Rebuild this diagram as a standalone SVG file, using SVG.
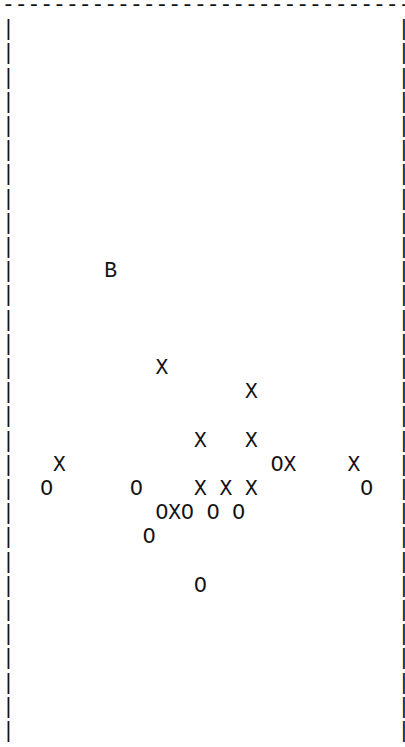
<svg xmlns="http://www.w3.org/2000/svg" width="405" height="747" viewBox="0 0 405 747">
<style>
text{font-family:"Liberation Mono","Courier New",monospace;font-size:21.33px;fill:#111;white-space:pre}
</style>
<rect width="405" height="747" fill="#fff"/>
<g id="frame" opacity="0.99">
<text id="top" x="1.9" y="11">--------------------------------</text>
<text id="left-bar" x="1.9"><tspan x="1.9" y="35.2">|</tspan><tspan x="1.9" y="59.4">|</tspan><tspan x="1.9" y="83.6">|</tspan><tspan x="1.9" y="107.8">|</tspan><tspan x="1.9" y="132">|</tspan><tspan x="1.9" y="156.2">|</tspan><tspan x="1.9" y="180.4">|</tspan><tspan x="1.9" y="204.6">|</tspan><tspan x="1.9" y="228.8">|</tspan><tspan x="1.9" y="253">|</tspan><tspan x="1.9" y="277.2">|</tspan><tspan x="1.9" y="301.4">|</tspan><tspan x="1.9" y="325.6">|</tspan><tspan x="1.9" y="349.8">|</tspan><tspan x="1.9" y="374">|</tspan><tspan x="1.9" y="398.2">|</tspan><tspan x="1.9" y="422.4">|</tspan><tspan x="1.9" y="446.6">|</tspan><tspan x="1.9" y="470.8">|</tspan><tspan x="1.9" y="495">|</tspan><tspan x="1.9" y="519.2">|</tspan><tspan x="1.9" y="543.4">|</tspan><tspan x="1.9" y="567.6">|</tspan><tspan x="1.9" y="591.8">|</tspan><tspan x="1.9" y="616">|</tspan><tspan x="1.9" y="640.2">|</tspan><tspan x="1.9" y="664.4">|</tspan><tspan x="1.9" y="688.6">|</tspan><tspan x="1.9" y="712.8">|</tspan><tspan x="1.9" y="737">|</tspan></text>
<text id="right-bar" x="397.6"><tspan x="397.6" y="35.2">|</tspan><tspan x="397.6" y="59.4">|</tspan><tspan x="397.6" y="83.6">|</tspan><tspan x="397.6" y="107.8">|</tspan><tspan x="397.6" y="132">|</tspan><tspan x="397.6" y="156.2">|</tspan><tspan x="397.6" y="180.4">|</tspan><tspan x="397.6" y="204.6">|</tspan><tspan x="397.6" y="228.8">|</tspan><tspan x="397.6" y="253">|</tspan><tspan x="397.6" y="277.2">|</tspan><tspan x="397.6" y="301.4">|</tspan><tspan x="397.6" y="325.6">|</tspan><tspan x="397.6" y="349.8">|</tspan><tspan x="397.6" y="374">|</tspan><tspan x="397.6" y="398.2">|</tspan><tspan x="397.6" y="422.4">|</tspan><tspan x="397.6" y="446.6">|</tspan><tspan x="397.6" y="470.8">|</tspan><tspan x="397.6" y="495">|</tspan><tspan x="397.6" y="519.2">|</tspan><tspan x="397.6" y="543.4">|</tspan><tspan x="397.6" y="567.6">|</tspan><tspan x="397.6" y="591.8">|</tspan><tspan x="397.6" y="616">|</tspan><tspan x="397.6" y="640.2">|</tspan><tspan x="397.6" y="664.4">|</tspan><tspan x="397.6" y="688.6">|</tspan><tspan x="397.6" y="712.8">|</tspan><tspan x="397.6" y="737">|</tspan></text>
</g>
<g id="pieces" opacity="0.99">
<text id="r11" x="104.3" y="277.2">B</text>
<text id="r15" x="155.5" y="374">X</text>
<text id="r16" x="245.1" y="398.2">X</text>
<text id="r18a" x="193.9" y="446.6">X</text>
<text id="r18b" x="245.1" y="446.6">X</text>
<text id="r19a" x="53.1" y="470.8">X</text>
<text id="r19b" x="270.7" y="470.8">OX</text>
<text id="r19c" x="347.5" y="470.8">X</text>
<text id="r20a" x="40.3" y="495">O</text>
<text id="r20b" x="129.9" y="495">O</text>
<text id="r20c" x="193.9" y="495" xml:space="preserve">X X X</text>
<text id="r20d" x="360.3" y="495">O</text>
<text id="r21" x="155.5" y="519.2" xml:space="preserve">OXO O O</text>
<text id="r22" x="142.7" y="543.4">O</text>
<text id="r24" x="193.9" y="591.8">O</text>
</g>
</svg>
